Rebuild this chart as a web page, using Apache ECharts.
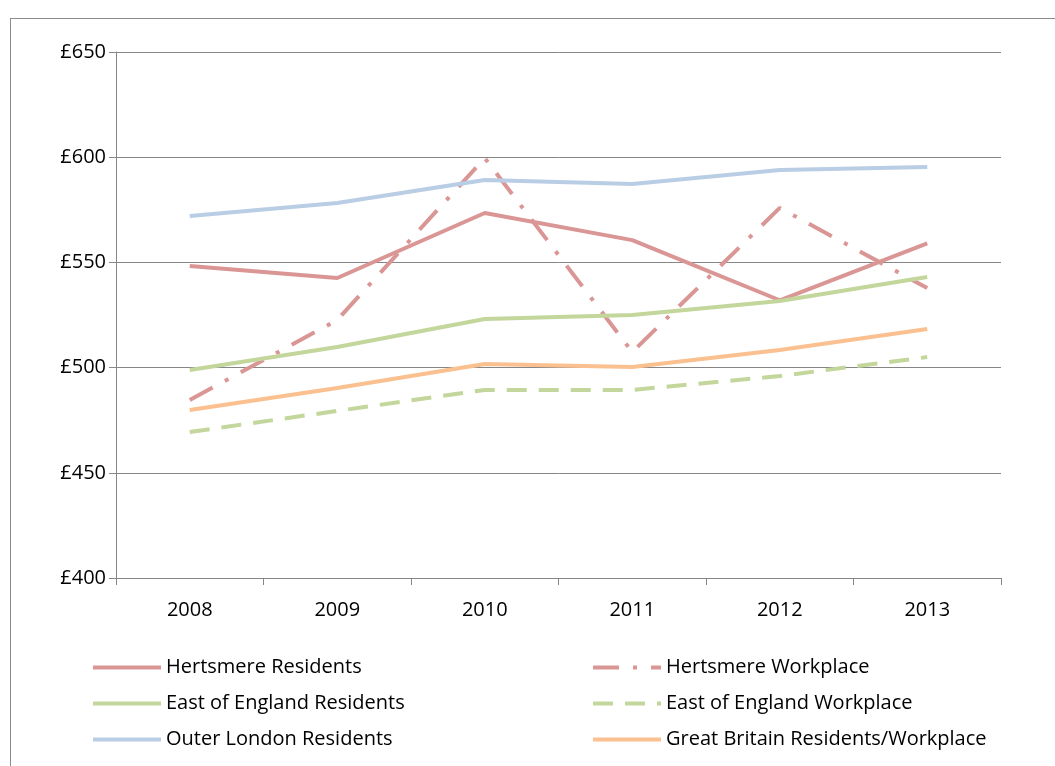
<!DOCTYPE html>
<html><head><meta charset="utf-8">
<script src="https://cdn.jsdelivr.net/npm/echarts@6/dist/echarts.min.js"></script>
<style>
html,body{margin:0;padding:0;background:#fff}
#frame{position:absolute;left:10px;top:18px;width:1060px;height:760px;border:1px solid #8c8c8c}
#chart{position:absolute;left:0;top:0;width:1055px;height:766px}
</style></head>
<body><div id="frame"></div><div id="chart"></div>
<script>
var years = ['2008', '2009', '2010', '2011', '2012', '2013'];
var hertsRes = [548.3, 542.6, 573.5, 560.6, 532, 559];
var hertsWork = [484.6, 522.6, 599.6, 507.4, 575.9, 537.8];
var eoeRes = [498.9, 509.8, 523.1, 525, 531.7, 543.1];
var eoeWork = [469.4, 479.4, 489.4, 489.4, 496, 505];
var outerRes = [572, 578.2, 589.2, 587.3, 593.9, 595.3];
var gbAll = [479.8, 490.3, 501.7, 500.3, 508.4, 518.3];

var font = 'Open Sans, Liberation Sans, sans-serif';
function line(name, data, color, type) {
  return {
    name: name, type: 'line', data: data, symbol: 'none',
    lineStyle: { color: color, width: 4, type: type || 'solid', cap: 'butt' },
    itemStyle: { color: color }
  };
}
function legend(left, names) {
  return {
    left: left, top: 649, orient: 'vertical', itemWidth: 68, itemHeight: 14, itemGap: 9,
    selectedMode: false, data: names,
    itemStyle: { opacity: 0 },
    lineStyle: { width: 4 },
    textStyle: { fontFamily: font, fontSize: 20, color: '#000', lineHeight: 27 }
  };
}
var chart = echarts.init(document.getElementById('chart'));
chart.setOption({
  animation: false,
  grid: { left: 116, right: 54, top: 52, bottom: 188 },
  legend: [
    legend(86, ['Hertsmere Residents', 'East of England Residents', 'Outer London Residents']),
    legend(586, ['Hertsmere Workplace', 'East of England Workplace', 'Great Britain Residents/Workplace'])
  ],
  xAxis: {
    type: 'category', data: years, boundaryGap: true,
    axisLine: { lineStyle: { color: '#868686' } },
    axisTick: { show: true, length: 7, inside: false, lineStyle: { color: '#868686' } },
    axisLabel: { fontFamily: font, fontSize: 20, color: '#000', margin: 22 }
  },
  yAxis: {
    type: 'value', min: 400, max: 650, interval: 50,
    axisLine: { show: true, lineStyle: { color: '#868686' } },
    axisTick: { show: true, length: 7, lineStyle: { color: '#868686' } },
    splitLine: { lineStyle: { color: '#868686' } },
    axisLabel: { fontFamily: font, fontSize: 20, color: '#000', margin: 10, formatter: function (v) { return '£' + v; } }
  },
  series: [
    line('Hertsmere Residents', hertsRes, '#d99694'),
    line('Hertsmere Workplace', hertsWork, '#d99694', [26, 14, 4, 14]),
    line('East of England Residents', eoeRes, '#c3d69b'),
    line('East of England Workplace', eoeWork, '#c3d69b', [20, 12]),
    line('Outer London Residents', outerRes, '#b9cde5'),
    line('Great Britain Residents/Workplace', gbAll, '#fac090')
  ]
});
</script></body></html>
